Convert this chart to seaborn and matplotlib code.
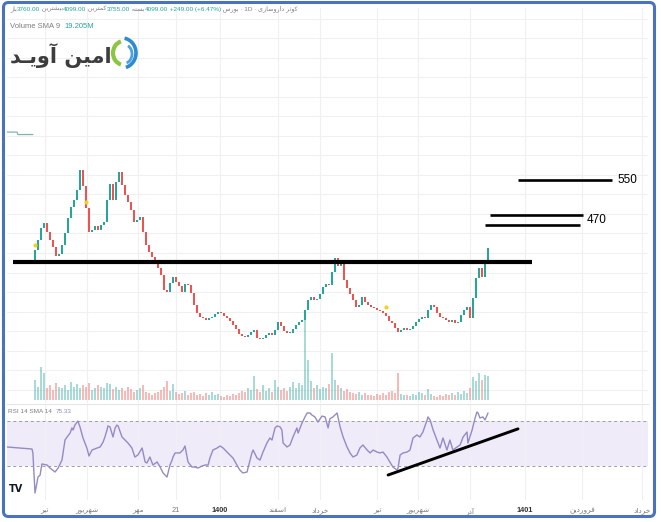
import numpy as np
import pandas as pd
import matplotlib
matplotlib.use("Agg")
import matplotlib.pyplot as plt
from matplotlib.patches import FancyBboxPatch, Arc
import seaborn as sns

# ---- data (price in toman, volume in million shares, x = bar index) ----
close = [406, 427, 451, 462, 443, 427, 412, 394, 398, 416,
         441, 472, 494, 509, 529, 570, 537, 492, 443, 447,
         455, 447, 457, 464, 509, 542, 509, 546, 566, 539,
         519, 505, 488, 464, 468, 474, 443, 416, 402, 392,
         379, 369, 355, 324, 320, 338, 351, 341, 332, 320,
         336, 334, 318, 293, 277, 269, 267, 263, 267, 269,
         275, 279, 277, 271, 267, 261, 252, 244, 234, 230,
         228, 232, 238, 242, 226, 224, 226, 232, 236, 232,
         242, 258, 250, 240, 236, 236, 244, 252, 258, 263,
         283, 304, 310, 304, 306, 316, 330, 336, 334, 361,
         390, 373, 382, 345, 328, 316, 304, 289, 293, 310,
         300, 293, 289, 287, 283, 281, 277, 271, 261, 256,
         246, 238, 242, 246, 242, 244, 250, 258, 265, 269,
         267, 283, 293, 289, 277, 269, 267, 263, 258, 263,
         256, 258, 273, 283, 289, 267, 308, 349, 369, 351,
         385, 410]
first_open = 385

volume = [30, 20, 50, 40, 18, 22, 15, 25, 20, 18,
          22, 15, 27, 20, 24, 18, 22, 20, 25, 15,
          18, 22, 20, 18, 26, 24, 16, 20, 15, 18,
          14, 20, 17, 12, 15, 18, 22, 12, 10, 8,
          10, 12, 15, 20, 28, 14, 24, 12, 9, 10,
          14, 8, 10, 12, 7, 9, 6, 10, 8, 12,
          7, 9, 6, 5, 8, 6, 9, 7, 10, 14,
          12, 18, 15, 36, 16, 12, 22, 14, 18, 12,
          30, 20, 15, 18, 14, 20, 27, 18, 26, 22,
          120, 60, 28, 18, 22, 16, 20, 18, 24, 70,
          30, 22, 18, 14, 16, 12, 10, 9, 12, 8,
          10, 7, 8, 6, 9, 7, 10, 8, 12, 14,
          10, 40, 9, 7, 8, 6, 9, 7, 12, 10,
          8, 16, 9, 6, 5, 7, 6, 9, 8, 10,
          7, 12, 9, 14, 11, 18, 35, 28, 40, 30,
          38, 36]

signal_bars = [0, 17, 117]
signal_prices = [416, 505, 289]

lead_bars = [-9.3, -6.0, -5.7, -0.7]
lead_prices = [648, 648, 643, 643]

rsi_bars = [-9.3, -1.0, -0.7, 0, 1, 1.7, 2.3, 4, 5, 6.7, 7.7, 9, 10, 10.7, 11.7,
            12.3, 12.7, 13.3, 14.3, 15, 16, 17.3, 18, 19, 20.7, 21.7, 22.7, 23.3,
            24, 24.3, 25, 26, 26.7, 27.3, 27.7, 29, 30, 31, 32.3, 33.3, 34.3, 35.7,
            36.7, 37.3, 38.3, 39.3, 40.7, 41.7, 42.7, 44, 45, 45.7, 46, 46.7, 47.7,
            48.3, 49.3, 50, 51, 52.3, 53.3, 54.3, 55.7, 56.7, 57.7, 58.3, 59.3, 60.7,
            61.7, 62.7, 64, 65, 66, 67.3, 68.3, 69.3, 70.7, 71, 72.3, 72.7, 74, 75,
            76, 77.3, 78.3, 79, 80, 80.7, 81.7, 82.3, 82.7, 84, 85, 86, 87.3, 87.7,
            89, 90, 90.7, 91.7, 92.3, 93.3, 94.3, 95.7, 96.7, 97.7, 98.3, 99.3,
            100.7, 101.7, 102.7, 104, 105, 106, 107.3, 108.3, 109.3, 110.7, 111.7,
            112.7, 114, 115, 116, 117.3, 118.3, 119.3, 120.7, 121, 121.7, 122.7,
            124, 125, 126, 127.3, 128.3, 129.3, 130.7, 131, 131.7, 132.7, 134, 135,
            136, 137.3, 138.3, 139.3, 140.7, 141.7, 142.7, 144, 144.3, 145.7, 146.7,
            147.3, 147.7, 148.3, 149.3, 150, 151]
rsi_vals = [46.9, 45.1, 41.6, 6.0, 20.2, 22.0, 31.8, 30.9, 28.2, 24.7, 28.2, 35.3,
            53.1, 55.8, 59.3, 63.8, 62.0, 66.4, 70.0, 64.7, 54.9, 46.0, 38.9, 44.2,
            46.0, 46.9, 51.3, 55.8, 62.0, 65.6, 64.7, 55.8, 63.8, 66.4, 65.6, 55.8,
            53.1, 50.4, 46.0, 38.0, 39.8, 46.0, 33.6, 32.7, 38.0, 30.9, 33.6, 29.1,
            23.8, 20.2, 30.9, 35.3, 38.0, 41.6, 41.6, 41.6, 44.2, 47.8, 33.6, 29.1,
            29.1, 28.2, 30.0, 30.9, 30.9, 37.1, 44.2, 46.0, 47.8, 46.0, 42.4, 39.8,
            37.1, 30.9, 26.4, 23.8, 24.7, 28.2, 41.6, 44.2, 37.1, 35.3, 42.4, 50.4,
            54.9, 53.1, 63.8, 65.6, 64.7, 62.0, 50.4, 46.9, 48.7, 55.8, 63.8, 59.3,
            68.2, 73.6, 77.1, 77.1, 75.3, 73.6, 69.1, 74.4, 73.6, 63.8, 72.0, 73.6,
            77.1, 64.7, 55.8, 46.9, 41.6, 38.0, 39.8, 46.0, 48.7, 44.2, 41.6, 44.2,
            42.4, 41.6, 42.4, 38.0, 33.6, 29.1, 26.4, 28.2, 39.8, 41.6, 42.4, 44.2,
            54.9, 57.6, 55.8, 60.2, 70.9, 73.6, 70.9, 62.0, 53.1, 46.0, 54.9, 44.2,
            53.1, 44.2, 46.9, 48.7, 55.8, 60.2, 50.4, 62.0, 72.7, 78.0, 77.1, 72.7,
            73.6, 70.9, 77.1]
rsi_trend_bars = [117.7, 161]
rsi_trend_vals = [22, 63]

support_price = 381
support_bars = [-7.3, 165.7]
target_prices = [550, 477, 458]
target_starts = [161, 151.7, 150]
target_ends = [192.3, 182.7, 181.7]
target_labels = ['550', '470']
target_label_bars = [194, 184]
target_label_prices = [550, 468]

date_bars = [3.3, 17.3, 34.3, 47, 61.7, 81, 95, 114, 127.7, 145, 163.3, 182.3, 202.3]
date_labels = ['تیر', 'شهریور', 'مهر', '21', '1400', 'اسفند', 'خرداد',
               'تیر', 'شهریور', 'آذر', '1401', 'فروردین', 'خرداد']

# ---- Persian shaping (matplotlib has no bidi / joining) ----
FORMS = {
    'ا': ('\uFE8D', '\uFE8E'), 'آ': ('\uFE81', '\uFE82'),
    'د': ('\uFEA9', '\uFEAA'), 'ذ': ('\uFEAB', '\uFEAC'),
    'ر': ('\uFEAD', '\uFEAE'), 'ز': ('\uFEAF', '\uFEB0'),
    'و': ('\uFEED', '\uFEEE'),
    'ب': ('\uFE8F', '\uFE90', '\uFE91', '\uFE92'),
    'ت': ('\uFE95', '\uFE96', '\uFE97', '\uFE98'),
    'ث': ('\uFE99', '\uFE9A', '\uFE9B', '\uFE9C'),
    'خ': ('\uFEA5', '\uFEA6', '\uFEA7', '\uFEA8'),
    'س': ('\uFEB1', '\uFEB2', '\uFEB3', '\uFEB4'),
    'ش': ('\uFEB5', '\uFEB6', '\uFEB7', '\uFEB8'),
    'ف': ('\uFED1', '\uFED2', '\uFED3', '\uFED4'),
    'م': ('\uFEE1', '\uFEE2', '\uFEE3', '\uFEE4'),
    'ن': ('\uFEE5', '\uFEE6', '\uFEE7', '\uFEE8'),
    'ه': ('\uFEE9', '\uFEEA', '\uFEEB', '\uFEEC'),
    'ی': ('\uFBFC', '\uFBFD', '\uFBFE', '\uFBFF'),
    'ک': ('\uFB8E', '\uFB8F', '\uFB90', '\uFB91'),
    'ـ': ('\u0640', '\u0640', '\u0640', '\u0640'),
}


def fa_word(word):
    if not any(ch in FORMS for ch in word):
        return word
    out = []
    for k, ch in enumerate(word):
        f = FORMS.get(ch)
        if f is None:
            out.append(ch)
            continue
        prev = word[k - 1] if k > 0 else ''
        nxt = word[k + 1] if k + 1 < len(word) else ''
        join_prev = prev in FORMS and len(FORMS[prev]) == 4
        join_next = len(f) == 4 and nxt in FORMS
        if join_prev and join_next:
            out.append(f[3])
        elif join_prev:
            out.append(f[1])
        elif join_next:
            out.append(f[2])
        else:
            out.append(f[0])
    return ''.join(out)[::-1]


def fa(text):
    return ' '.join(fa_word(w) for w in text.split()[::-1])


# ---- build frame ----
df = pd.DataFrame({'bar': np.arange(len(close)), 'close': close, 'volume': volume})
df['open'] = df['close'].shift(1).fillna(first_open)
df['up'] = df['close'] >= df['open']

UP, DOWN = '#26a69a', '#ef5350'
GRID = '#f0f0f3'
SMALL = ['Liberation Sans', 'DejaVu Sans']

sns.set_style("white")
plt.rcParams['font.family'] = ['DejaVu Sans']

W, H = 661, 522
fig = plt.figure(figsize=(W / 100, H / 100), dpi=100)


def rect(x0, y0, x1, y1):
    return [x0 / W, 1 - y1 / H, (x1 - x0) / W, (y1 - y0) / H]


ax = fig.add_axes(rect(6.5, 8, 648, 403))
ax_rsi = fig.add_axes(rect(6.5, 404, 648, 500), sharex=ax)
ax_vol = ax.twinx()

# price pane
body = (df['close'] - df['open']).abs().clip(lower=1.5)
ax.bar(df['bar'], body, bottom=df[['open', 'close']].min(axis=1), width=0.62,
       color=np.where(df['up'], UP, DOWN), linewidth=0, zorder=3)
ax.scatter(signal_bars, signal_prices, s=9, color='#f2d21b', zorder=4, linewidth=0)
ax.plot(lead_bars, lead_prices, color='#7fb5ae', lw=0.9)
ax.plot(support_bars, [support_price] * 2, color='black', lw=3.0, zorder=5,
        solid_capstyle='butt')
for p, s, e in zip(target_prices, target_starts, target_ends):
    ax.plot([s, e], [p, p], color='black', lw=1.9, zorder=5, solid_capstyle='butt')
for lab, b, p in zip(target_labels, target_label_bars, target_label_prices):
    ax.text(b, p, lab, fontsize=8.5, ha='left', va='center', color='black',
            family=SMALL)

ax.set_xlim(-9.5, 204.33)
ax.set_ylim(92.35, 902.5)
ax.set_yticks(np.arange(120, 900, 40))
ax.set_xticks(date_bars)
ax.grid(True, color=GRID, lw=0.8)
ax.tick_params(labelleft=False, labelbottom=False, length=0)

# volume
ax_vol.bar(df['bar'], df['volume'], width=0.62,
           color=np.where(df['up'], UP, DOWN), alpha=0.4, linewidth=0)
ax_vol.set_ylim(-4.5, 588)
ax_vol.set_yticks([])
ax_vol.grid(False)

# rsi pane
ax_rsi.axhspan(30, 70, color='#efebf9', lw=0, zorder=0)
for lvl in (70, 30):
    ax_rsi.axhline(lvl, color='#9d9d9d', lw=0.7, ls=(0, (3, 3)), zorder=1)
sns.lineplot(x=rsi_bars, y=rsi_vals, ax=ax_rsi, color='#958ac6', lw=1.0,
             sort=False, estimator=None, zorder=3)
ax_rsi.plot(rsi_trend_bars, rsi_trend_vals, color='black', lw=2.1, zorder=4)
ax_rsi.set_ylim(-0.2, 85.1)
ax_rsi.set_yticks([])
ax_rsi.set_xticks(date_bars)
ax_rsi.set_xticklabels([fa(t) for t in date_labels], family=SMALL)
ax_rsi.grid(True, axis='x', color=GRID, lw=0.8)
ax_rsi.tick_params(axis='x', length=0, pad=5, labelsize=5.3, labelcolor='#7a7a7a')
for t in ax_rsi.get_xticklabels():
    if t.get_text() in ('1400', '1401'):
        t.set_color('#333333')
        t.set_fontweight('bold')

for a in (ax, ax_vol, ax_rsi):
    for sp in a.spines.values():
        sp.set_visible(False)
ax_rsi.spines['top'].set_visible(True)
ax_rsi.spines['top'].set_color('#e6e6e6')
ax_rsi.spines['top'].set_linewidth(0.8)

# overlay: frame, legend texts, logo
ov = fig.add_axes([0, 0, 1, 1], zorder=10)
ov.set_xlim(0, W)
ov.set_ylim(H, 0)
ov.axis('off')
ov.patch.set_alpha(0)

ov.add_patch(FancyBboxPatch((3.5, 2.5), 651, 514, boxstyle='round,pad=0,rounding_size=5',
                            fill=False, ec='#4a72c0', lw=2.2))


def chain(x, y, pieces, size):
    prev = ov.text(x, y, pieces[0][0], color=pieces[0][1], fontsize=size,
                   ha='left', va='bottom', family=SMALL)
    for s, c in pieces[1:]:
        prev = ov.annotate(s, xy=(1, 0), xycoords=prev, ha='left', va='bottom',
                           color=c, fontsize=size, family=SMALL)


GREY, TEAL = '#7d7d7d', '#26a69a'
chain(10, 12, [(fa('باز'), GREY), ('3760.00', TEAL), (' ' + fa('بیشترین'), GREY),
               ('4099.00', TEAL), (' ' + fa('کمترین'), GREY), ('3755.00', TEAL),
               (' ' + fa('بسته'), GREY), ('4099.00', TEAL),
               (' +249.00 (+6.47%)', TEAL),
               (' ' + fa('بورس') + ' · 1D · ' + fa_word('داروسازی') + ' ' + fa_word('کوثر'), GREY)],
      4.6)
chain(10, 30, [('Volume SMA 9  ', GREY), ('19.205M', TEAL)], 5.5)
chain(8, 414, [('RSI 14 SMA 14  ', GREY), ('75.33', '#958ac6')], 4.6)

ov.text(61, 56, fa('امین آویـد'), fontsize=15, fontweight='bold', color='#3d3d3d',
        ha='center', va='center')
ov.add_patch(Arc((124, 53), 22, 24, theta1=105, theta2=255, lw=3.0, color='#8cc63f'))
ov.add_patch(Arc((122, 53), 28, 30, theta1=-80, theta2=75, lw=2.6, color='#2e8bd0'))
ov.add_patch(Arc((125, 54), 14, 18, theta1=-70, theta2=80, lw=2.0, color='#4aa3df'))

ov.text(16, 489, 'TV', fontsize=7, fontweight='bold', color='#131722',
        ha='center', va='center')

fig.savefig('out.png', dpi=100)
